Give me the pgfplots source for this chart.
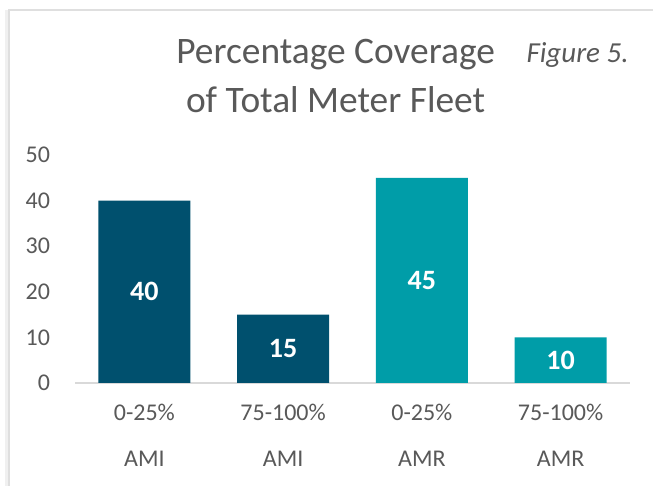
\documentclass[border=0pt]{standalone}
\usepackage{fontspec}
\setmainfont{Carlito}
\usepackage{pgfplots}
\pgfplotsset{compat=1.18}
\definecolor{amiblue}{RGB}{0,80,110}
\definecolor{amrteal}{RGB}{0,157,168}
\definecolor{txtgray}{RGB}{89,89,89}
\definecolor{gridgray}{RGB}{217,217,217}

\begin{document}
\begin{tikzpicture}
  \useasboundingbox (0,0) rectangle (326.5pt,243pt);
  \fill[white] (0,0) rectangle (326.5pt,243pt);
  % frame of the chart area (runs off the right and bottom edges)
  \fill[gray!12] (2.5pt,-5pt) rectangle (4.5pt,238pt);
  \draw[gray!25, line width=0.6pt] (4.5pt,-5pt) -- (4.5pt,238pt) -- (335pt,238pt);

  \node[txtgray, font=\fontsize{18.7}{22}\selectfont] at (167.8pt,215.5pt) {Percentage Coverage};
  \node[txtgray, font=\fontsize{18.7}{22}\selectfont] at (167.8pt,193pt) {of Total Meter Fleet};
  \node[txtgray, font=\fontsize{14.5}{17}\itshape] at (288.8pt,215.5pt) {Figure 5.};

  \begin{axis}[
      at={(37.5pt,51.5pt)}, anchor=south west,
      scale only axis,
      width=277.5pt, height=114pt,
      xmin=-0.5, xmax=3.5,
      ymin=0, ymax=50,
      ytick={0,10,...,50},
      xtick={0,1,2,3},
      xticklabels={0-25\%\\[8.5pt]AMI, 75-100\%\\[8.5pt]AMI, 0-25\%\\[8.5pt]AMR, 75-100\%\\[8.5pt]AMR},
      axis x line*=bottom,
      axis y line=none,
      ymajorgrids,
      grid style={gridgray, line width=0.7pt},
      x axis line style={gridgray, line width=0.8pt},
      major tick length=0pt,
      tick style={draw=none},
      ybar, bar width=46pt, bar shift=0pt,
      /pgf/number format/assume math mode=true,
      ticklabel style={txtgray, font=\fontsize{12}{14.5}\selectfont},
      xticklabel style={align=center, yshift=-7pt},
      clip=false,
    ]
    % y tick labels (axis y line is hidden)
    \pgfplotsinvokeforeach{0,10,20,30,40,50}{
      \node[txtgray, font=\fontsize{12}{14.5}\selectfont, anchor=east] at (axis cs:-0.5,#1) [xshift=-9pt] {#1};
    }
    \addplot[fill=amiblue, draw=none] coordinates {(0,40) (1,15)};
    \addplot[fill=amrteal, draw=none] coordinates {(2,45) (3,10)};
    \addplot[draw=none, fill=none, nodes near coords, point meta=explicit symbolic,
      every node near coord/.append style={anchor=center, white, font=\fontsize{14}{16}\bfseries}]
      coordinates {(0,20)[40] (1,7.5)[15] (2,22.5)[45] (3,5)[10]};
  \end{axis}
\end{tikzpicture}
\end{document}
